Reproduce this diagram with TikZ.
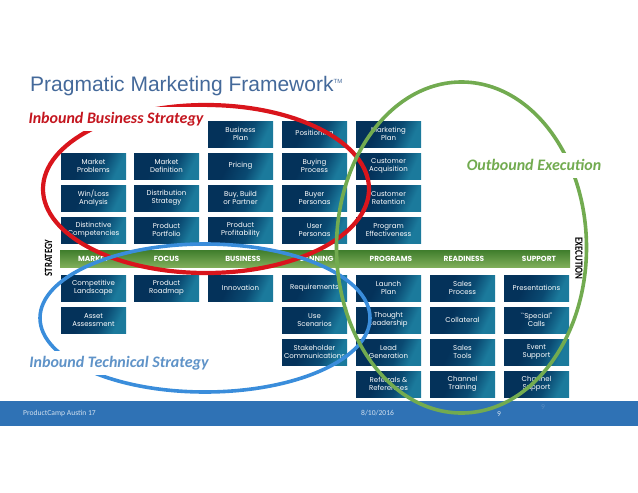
\documentclass[tikz,border=0pt]{standalone}
\usepackage{fontspec}
\setmainfont{Liberation Sans}
\newfontfamily\boxfont{Poppins}
\newfontfamily\notefont{Carlito}
\definecolor{titleblue}{HTML}{44699A}
\definecolor{boxdark}{HTML}{04325A}
\definecolor{boxmid}{HTML}{0A4A72}
\definecolor{boxteal}{HTML}{1B7A9C}
\definecolor{bartop}{HTML}{3F7D2C}
\definecolor{barlow}{HTML}{7FAE5A}
\definecolor{footblue}{HTML}{2F72B5}
\definecolor{ringred}{HTML}{D9151C}
\definecolor{ringblue}{HTML}{3A8DDB}
\definecolor{ringgreen}{HTML}{72AB50}
\definecolor{notered}{HTML}{C4161F}
\definecolor{noteblue}{HTML}{5F93C8}
\pgfdeclarehorizontalshading{boxshade}{100bp}{color(0bp)=(boxdark); color(38bp)=(boxdark); color(58bp)=(boxmid); color(72bp)=(boxteal); color(100bp)=(boxteal)}
\begin{document}
\begin{tikzpicture}
[x=1pt,y=-1pt
,fb/.style={minimum width=65pt,minimum height=26pt,inner sep=0pt,align=center
  ,text=white,font=\boxfont\fontsize{7}{8}\selectfont
  ,shading=boxshade,shading angle=-25}
,bartext/.style={text=white,font=\boxfont\bfseries\fontsize{7.4}{8}\selectfont,inner sep=0pt}
,sidetext/.style={text=black,font=\notefont\bfseries\fontsize{11}{12}\selectfont,inner sep=0pt}
,redring/.style={line width=4.2pt,ringred}
,bluering/.style={line width=3.6pt,ringblue}
,greenring/.style={line width=3.6pt,ringgreen}
,note/.style={fill=white,inner sep=0pt,font=\notefont\bfseries\itshape\fontsize{16}{18}\selectfont}
,foot/.style={inner sep=0pt,text=white!78!footblue,font=\notefont\fontsize{7.6}{9}\selectfont}]
\useasboundingbox (0,0) rectangle (638,493);
\node[fill=footblue,minimum width=638pt,minimum height=25pt,inner sep=0pt] (footer) at (319,413.5) {};
\node[text=titleblue,inner sep=0pt,anchor=west,font=\fontsize{21}{24}\selectfont] (title) at (30,86) {Pragmatic Marketing Framework\textsuperscript{\fontsize{6}{6}\selectfont TM}};
\node[fb] (bplan) at (240.5,134) {Business\\Plan};
\node[fb] (posn) at (314.5,134) {Positioning};
\node[fb] (mplan) at (388.5,134) {Marketing\\Plan};
\node[fb] (mprob) at (93.5,166) {Market\\Problems};
\node[fb] (mdef) at (166.5,166) {Market\\Definition};
\node[fb] (pric) at (240.5,166) {Pricing};
\node[fb] (buyp) at (314.5,166) {Buying\\Process};
\node[fb] (cacq) at (388.5,166) {Customer\\Acquisition};
\node[fb] (winl) at (93.5,198) {Win/Loss\\Analysis};
\node[fb] (dist) at (166.5,198) {Distribution\\Strategy};
\node[fb] (bbp) at (240.5,198) {Buy, Build\\or Partner};
\node[fb] (buyr) at (314.5,198) {Buyer\\Personas};
\node[fb] (cret) at (388.5,198) {Customer\\Retention};
\node[fb] (dcomp) at (93.5,230) {Distinctive\\Competencies};
\node[fb] (ppor) at (166.5,230) {Product\\Portfolio};
\node[fb] (pprof) at (240.5,230) {Product\\Profitability};
\node[fb] (user) at (314.5,230) {User\\Personas};
\node[fb] (peff) at (388.5,230) {Program\\Effectiveness};
\node[minimum width=510pt,minimum height=17pt,inner sep=0pt,shading=axis,top color=bartop,bottom color=barlow] (bar) at (315,258.5) {};
\node[bartext] (market) at (93.5,258.5) {MARKET};
\node[bartext] (focus) at (166.5,258.5) {FOCUS};
\node[bartext] (business) at (243,258.5) {BUSINESS};
\node[bartext] (planning) at (314.5,258.5) {PLANNING};
\node[bartext] (programs) at (391,258.5) {PROGRAMS};
\node[bartext] (readiness) at (464,258.5) {READINESS};
\node[bartext] (support) at (539,258.5) {SUPPORT};
\node[sidetext,rotate=90,xscale=.8] (strategy) at (48.5,258) {STRATEGY};
\node[sidetext,rotate=-90,xscale=.8] (execution) at (579,258.5) {EXECUTION};
\node[fb] (comp) at (93.5,288) {Competitive\\Landscape};
\node[fb] (road) at (166.5,288) {Product\\Roadmap};
\node[fb] (innov) at (240.5,288) {Innovation};
\node[fb] (reqs) at (314.5,288) {Requirements};
\node[fb] (lplan) at (388.5,288) {Launch\\Plan};
\node[fb] (sproc) at (462.5,288) {Sales\\Process};
\node[fb] (pres) at (536.5,288) {Presentations};
\node[fb] (asset) at (93.5,320) {Asset\\Assessment};
\node[fb] (usec) at (314.5,320) {Use\\Scenarios};
\node[fb] (thought) at (388.5,320) {Thought\\Leadership};
\node[fb] (coll) at (462.5,320) {Collateral};
\node[fb] (calls) at (536.5,320) {``Special''\\Calls};
\node[fb] (stake) at (314.5,352) {Stakeholder\\Communications};
\node[fb] (lead) at (388.5,352) {Lead\\Generation};
\node[fb] (stools) at (462.5,352) {Sales\\Tools};
\node[fb] (event) at (536.5,352) {Event\\Support};
\node[fb] (refs) at (388.5,384) {Referrals \&\\References};
\node[fb] (ctrain) at (462.5,384) {Channel\\Training};
\node[fb] (csupp) at (536.5,384) {Channel\\Support};
\node[foot,anchor=west] (camp) at (23,413.5) {ProductCamp Austin 17};
\node[foot,anchor=west] (date) at (361,413.5) {8/10/2016};
\node[foot] (pagea) at (499,414.5) {9};
\node[inner sep=0pt,text=white!18!footblue,font=\notefont\fontsize{7.6}{9}\selectfont] (pageb) at (543,407) {9};
\draw[redring] (206,189) ellipse [x radius=163,y radius=84];
\draw[bluering] (205,318) ellipse [x radius=165,y radius=74];
\draw[greenring] (461.5,247.5) ellipse [x radius=125,y radius=165.5];
\node[note,text=notered,minimum width=182pt,minimum height=24pt] (inbiz) at (116,119) {Inbound Business Strategy};
\node[note,text=noteblue,minimum width=184pt,minimum height=24pt] (intech) at (119,363) {Inbound Technical Strategy};
\node[note,text=ringgreen,minimum width=138pt,minimum height=25pt] (outex) at (534,165) {Outbound Execution};
\end{tikzpicture}
\end{document}
